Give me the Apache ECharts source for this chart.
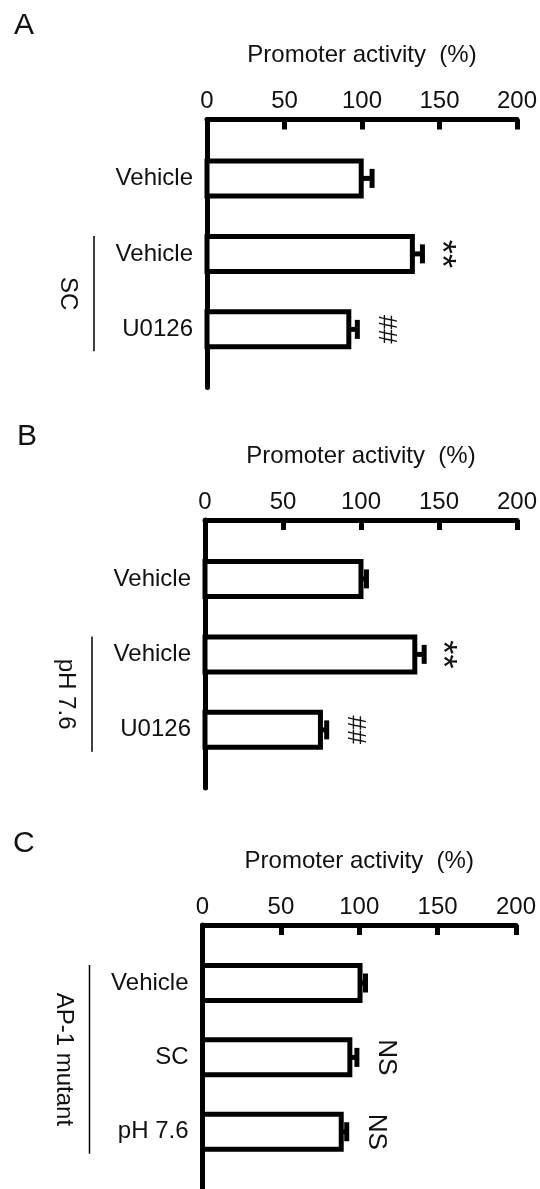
<!DOCTYPE html>
<html>
<head>
<meta charset="utf-8">
<script src="https://cdn.jsdelivr.net/npm/echarts@6/dist/echarts.min.js"></script>
<style>
  html, body { margin: 0; padding: 0; background: #fff; }
  #chart { width: 540px; height: 1189px; }
</style>
</head>
<body>
<div id="chart"></div>
<script>
// values
const xTicks = [0, 50, 100, 150, 200];

const categoriesA = ['Vehicle', 'Vehicle', 'U0126'];
const valuesA = [99.5, 132.5, 91.5];
const errorsA = [7, 6.5, 5.5];
const marksA = ['', '**', '##'];
const groupA = ['SC', 1, 2];

const categoriesB = ['Vehicle', 'Vehicle', 'U0126'];
const valuesB = [100, 134.5, 74];
const errorsB = [3.5, 6, 4];
const marksB = ['', '**', '##'];
const groupB = ['pH 7.6', 1, 2];

const categoriesC = ['Vehicle', 'SC', 'pH 7.6'];
const valuesC = [100.5, 94, 88.5];
const errorsC = [3.5, 4.5, 3.5];
const marksC = ['', 'NS', 'NS'];
const groupC = ['AP-1 mutant', 0, 2];

const FONT = 'Liberation Sans, Arial, sans-serif';
const INK = '#111';

const panels = [
  { letter: 'A', cats: categoriesA, vals: valuesA, errs: errorsA, marks: marksA, group: groupA },
  { letter: 'B', cats: categoriesB, vals: valuesB, errs: errorsB, marks: marksB, group: groupB },
  { letter: 'C', cats: categoriesC, vals: valuesC, errs: errorsC, marks: marksC, group: groupC }
];
// grid boxes (axis origin at left/top)
const layout = [
  { left: 207, top: 119.5, width: 314, letterX: 14, letterY: 26 },
  { left: 205, top: 520, width: 313, letterX: 17, letterY: 437 },
  { left: 202.5, top: 925, width: 313.5, letterX: 13, letterY: 844 }
];

const chart = echarts.init(document.getElementById('chart'));

const grids = [], xAxes = [], yAxes = [], series = [], graphics = [];

panels.forEach((p, i) => {
  const L = layout[i];
  grids.push({ left: L.left, top: L.top, width: L.width, height: 268 });
  xAxes.push({
    gridIndex: i,
    type: 'value',
    position: 'top',
    min: xTicks[0],
    max: xTicks[xTicks.length - 1],
    interval: xTicks[1] - xTicks[0],
    name: 'Promoter activity  (%)',
    nameLocation: 'middle',
    nameGap: 52,
    nameTextStyle: { fontFamily: FONT, fontSize: 24, color: INK },
    axisLine: { onZero: false, lineStyle: { color: '#000', width: 5 } },
    axisTick: { inside: true, length: 10, lineStyle: { color: '#000', width: 5 } },
    axisLabel: { margin: 6, fontFamily: FONT, fontSize: 24, color: INK },
    splitLine: { show: false }
  });
  yAxes.push({
    gridIndex: i,
    type: 'value',
    inverse: true,
    min: -0.78,
    max: 2.77,
    axisLine: { show: true, onZero: false, lineStyle: { color: '#000', width: 5 } },
    axisTick: { show: false },
    axisLabel: { show: false },
    splitLine: { show: false }
  });

  series.push({
    type: 'custom',
    xAxisIndex: i,
    yAxisIndex: i,
    data: p.vals.map((v, j) => [v, j, p.errs[j]]),
    encode: { x: 0, y: 1 },
    renderItem: (params, api) => {
      const j = params.dataIndex;
      const v = api.value(0), idx = api.value(1), e = api.value(2);
      const s = api.coord([0, idx]);
      const b = api.coord([v, idx]);
      const t = api.coord([v + e, idx]);
      const cy = s[1];
      const children = [
        { type: 'line', shape: { x1: b[0], y1: cy, x2: t[0], y2: cy },
          style: { stroke: '#000', lineWidth: 5 } },
        { type: 'line', shape: { x1: t[0], y1: cy - 9.5, x2: t[0], y2: cy + 9.5 },
          style: { stroke: '#000', lineWidth: 5 } },
        { type: 'rect', shape: { x: s[0], y: cy - 17.5, width: b[0] - s[0], height: 35 },
          style: { fill: '#fff', stroke: '#000', lineWidth: 5 } },
        { type: 'text', x: s[0] - 14, y: cy,
          style: { text: p.cats[j], align: 'right', verticalAlign: 'middle',
                   fontFamily: FONT, fontSize: 24, fill: INK } }
      ];
      const m = p.marks[j];
      if (m) {
        // asterisks sit high in the line box, so they need a bigger size and a smaller shift
        const star = m.indexOf('*') >= 0;
        children.push({ type: 'text', x: t[0] + (star ? 17 : 29), y: cy, rotation: -Math.PI / 2,
          style: { text: m, align: 'center', verticalAlign: 'middle',
                   fontFamily: FONT, fontSize: star ? 36 : 26, fill: INK } });
      }
      return { type: 'group', children: children };
    }
  });

  series.push({
    type: 'custom',
    xAxisIndex: i,
    yAxisIndex: i,
    data: [[0, p.group[1], p.group[2]]],
    encode: { x: 0, y: [1, 2] },
    renderItem: (params, api) => {
      const a = api.coord([0, api.value(1)]);
      const z = api.coord([0, api.value(2)]);
      const x = a[0] - 113;
      const y1 = a[1] - 18, y2 = z[1] + 22;
      return { type: 'group', children: [
        { type: 'line', shape: { x1: x, y1: y1, x2: x, y2: y2 },
          style: { stroke: '#000', lineWidth: 1.5 } },
        { type: 'text', x: x - 26, y: (y1 + y2) / 2, rotation: -Math.PI / 2,
          style: { text: p.group[0], align: 'center', verticalAlign: 'middle',
                   fontFamily: FONT, fontSize: 24, fill: INK } }
      ] };
    }
  });

  graphics.push({
    type: 'text', left: L.letterX, top: L.letterY - 15,
    style: { text: p.letter, fontFamily: FONT, fontSize: 30, fill: INK }
  });
});

chart.setOption({
  animation: false,
  backgroundColor: '#fff',
  grid: grids,
  xAxis: xAxes,
  yAxis: yAxes,
  series: series,
  graphic: graphics
});

window.addEventListener('resize', () => chart.resize());
</script>
</body>
</html>
